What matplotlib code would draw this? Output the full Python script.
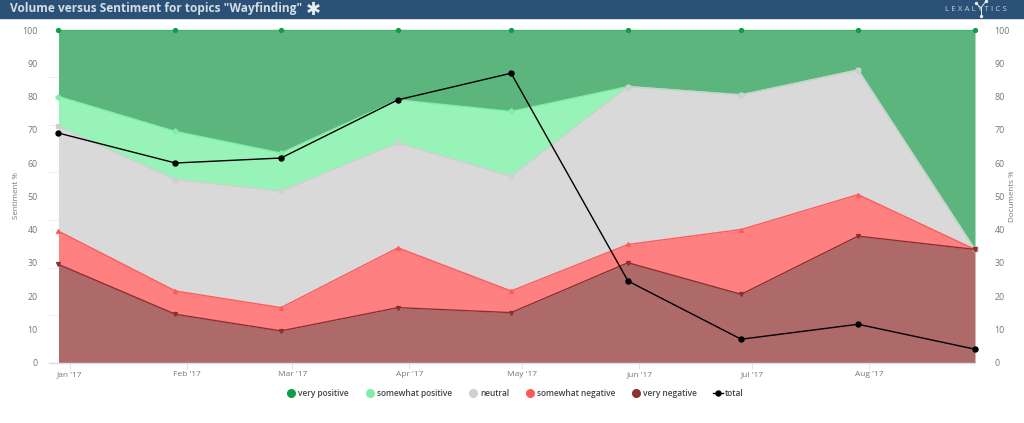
import pandas as pd
import numpy as np
from matplotlib import pyplot as plt
from matplotlib.lines import Line2D
import matplotlib.dates as mdates

plt.rcParams['font.family'] = ['Open Sans', 'DejaVu Sans']

# chart values, each sentiment is the top edge of its stacked band
months = ['2017-01-01', '2017-02-01', '2017-03-01', '2017-04-01', '2017-05-01',
          '2017-06-01', '2017-07-01', '2017-08-01', '2017-09-01']
month_labels = ["Jan '17", "Feb '17", "Mar '17", "Apr '17", "May '17", "Jun '17", "Jul '17", "Aug '17"]
very_negative = [29.5, 14.5, 9.5, 16.5, 15, 30, 20.5, 38, 34]
somewhat_negative = [39.5, 21.5, 16.5, 34.5, 21.5, 35.5, 40, 50.5, 34]
neutral = [71, 55, 51.5, 66, 56, 83, 80.5, 88, 34]
somewhat_positive = [80, 69.5, 63, 79, 75.5, 83, 80.5, 88, 34]
very_positive = [100, 100, 100, 100, 100, 100, 100, 100, 100]
total = [69, 60, 61.5, 79, 87, 24.5, 7, 11.5, 4]
y_labels = [0, 10, 20, 30, 40, 50, 60, 70, 80, 90, 100]

x = mdates.date2num(pd.to_datetime(months))

W, H = 1024, 423
fig = plt.figure(figsize=(W / 100, H / 100), dpi=100, facecolor='white')

# header bar
fig.patches.append(plt.Rectangle((0, 1 - 18 / H), 1, 18 / H, transform=fig.transFigure,
                                 color='#2B5276', zorder=0))
fig.text(10 / W, 1 - 8.5 / H, 'Volume versus Sentiment for topics "Wayfinding"', color='#D5DDE5',
         fontsize=8.6, fontweight='bold', va='center', ha='left')
fig.text(313 / W, 1 - 10 / H, '\u2731', color='#E8EDF2', fontsize=13,
         va='center', ha='center', family='DejaVu Sans')
fig.text(975.5 / W, 1 - 9.5 / H, 'L E X A L Y T I C S', color='#C4D0DB', fontsize=5.8,
         va='center', ha='center')

# little network mark on the Y of the logo
for px, py in [(976, 3), (986, 1), (981, 16)]:
    fig.add_artist(Line2D([981 / W, px / W], [1 - 8 / H, 1 - py / H], color='#E8EDF2', lw=0.7,
                          marker='o', ms=1.4, markevery=[1]))

ax = fig.add_axes([58.5 / W, 1 - 362.5 / H, (975 - 58.5) / W, (362.5 - 30) / H])

# stacked bands, drawn from the top one down
bands = [
    (very_positive, somewhat_positive, '#5DB57E', '#4DB277', 'o', '#0F9D48'),
    (somewhat_positive, neutral, '#98F3B9', '#7EEFA8', 'D', '#7EEFA8'),
    (neutral, somewhat_negative, '#D9D9D9', '#CFCFCF', 's', '#CFCFCF'),
    (somewhat_negative, very_negative, '#FF8080', '#FF5A5A', '^', '#FF5A5A'),
    (very_negative, [0] * 9, '#AD6A68', '#8E2F2F', 'v', '#8E2F2F'),
]
for top, bottom, fill, edge, mark, mark_col in bands:
    ax.fill_between(x, bottom, top, color=fill, lw=0, zorder=2)
    ax.plot(x, top, color=edge, lw=1, marker=mark, ms=2.8, mfc=mark_col, mec=mark_col,
            clip_on=False, zorder=3)

ax.set_xlim(x[0], x[-1])
ax.set_ylim(0, 100)
for side in ax.spines:
    ax.spines[side].set_visible(False)

# x ticks sit a little right of the data points in the original
ax.set_xticks(x[:-1] + 3)
ax.set_xticklabels(month_labels)
ax.tick_params(axis='x', length=4, width=0.6, color='#D8DCEE', labelsize=6,
               labelcolor='#777777', pad=2)
ax.set_yticks(y_labels)
ax.tick_params(axis='y', length=0, labelsize=6.4, labelcolor='#777777', pad=15)

# faint grid stubs poke out either side of the areas
ax.set_yticks(np.linspace(0, 100, 8), minor=True)
ax.tick_params(axis='y', which='minor', length=9, width=0.6, color='#ECECEC', left=True, right=True)
ax.plot([-0.01, 1], [0, 0], transform=ax.transAxes, color='#D8DCEE', lw=1, clip_on=False, zorder=4)

# total line on the right hand axis
ax2 = ax.twinx()
ax2.set_ylim(0, 100)
ax2.plot(x, total, color='black', lw=1, marker='o', ms=3.6, clip_on=False, zorder=6)
for side in ax2.spines:
    ax2.spines[side].set_visible(False)
ax2.set_yticks(y_labels)
ax2.tick_params(axis='y', length=0, labelsize=6.4, labelcolor='#777777', pad=14)

# axis titles placed by hand so they keep inside the figure
fig.text(17 / W, 1 - 196 / H, 'Sentiment %', rotation=90, fontsize=5.8, color='#777777', va='center', ha='center')
fig.text(1013 / W, 1 - 196 / H, 'Documents %', rotation=90, fontsize=5.8, color='#777777', va='center', ha='center')

# legend
handles = [
    Line2D([], [], ls='', marker='o', ms=5.5, color='#0F9D48'),
    Line2D([], [], ls='', marker='o', ms=5.5, color='#7EEFA8'),
    Line2D([], [], ls='', marker='o', ms=5.5, color='#CFCFCF'),
    Line2D([], [], ls='', marker='o', ms=5.5, color='#FF5A5A'),
    Line2D([], [], ls='', marker='o', ms=5.5, color='#8E2F2F'),
    Line2D([], [], color='black', lw=1, marker='o', ms=3.6),
]
names = ['very positive', 'somewhat positive', 'neutral', 'somewhat negative', 'very negative', 'total']
fig.legend(handles, names, loc='center', bbox_to_anchor=(515 / W, 1 - 393 / H), ncols=6, frameon=False,
           labelcolor='#444444', handlelength=1.2, handletextpad=0.25, columnspacing=1.9,
           prop={'size': 6, 'weight': 'semibold'})

plt.savefig('out.png', dpi=100)
